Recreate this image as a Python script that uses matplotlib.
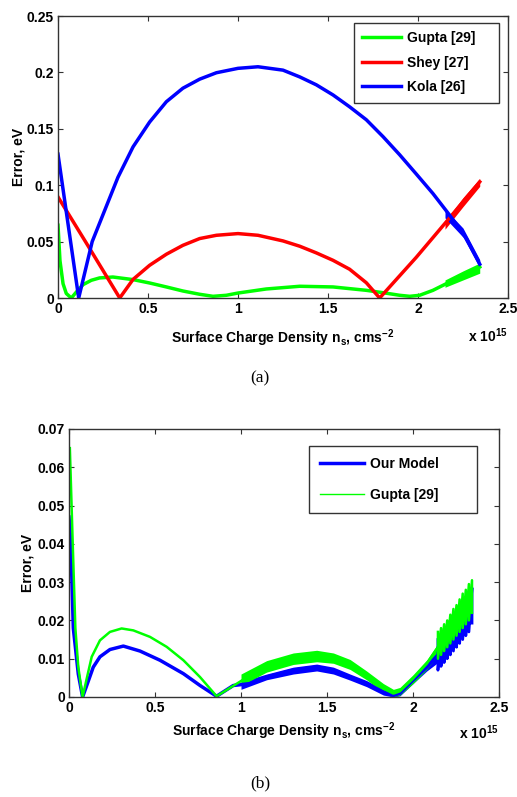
import numpy as np
import matplotlib.pyplot as plt

plt.rcParams['font.family'] = ['Liberation Sans', 'DejaVu Sans']
plt.rcParams['font.weight'] = 'bold'
plt.rcParams['mathtext.fontset'] = 'custom'
plt.rcParams['mathtext.rm'] = 'Liberation Sans:bold'
plt.rcParams['mathtext.bf'] = 'Liberation Sans:bold'

# ---- panel (a) data, x in units of 1e15 cm^-2 ----
gupta_a_x = [0, 0.011, 0.028, 0.046, 0.074, 0.102, 0.139, 0.185, 0.231, 0.305, 0.417, 0.509,
             0.602, 0.694, 0.787, 0.861, 0.935, 1.0, 1.157, 1.343, 1.528, 1.713, 1.806,
             1.898, 1.954, 2.009, 2.083, 2.176, 2.269, 2.343]
gupta_a_y = [0.0645, 0.033, 0.0127, 0.004, 0.0, 0.0053, 0.0118, 0.0157, 0.0178, 0.0186,
             0.0163, 0.0133, 0.0098, 0.0062, 0.0033, 0.0015, 0.0024, 0.0044, 0.008, 0.0104,
             0.0098, 0.0068, 0.0047, 0.0024, 0.0015, 0.0024, 0.0068, 0.0142, 0.0216, 0.0275]
shey_x = [0, 0.154, 0.343, 0.417, 0.509, 0.602, 0.694, 0.787, 0.88, 1.0, 1.111, 1.25,
          1.343, 1.435, 1.528, 1.62, 1.713, 1.787, 1.99, 2.157, 2.343]
shey_y = [0.0896, 0.0496, 0.0, 0.0165, 0.029, 0.0388, 0.0467, 0.0527, 0.0556, 0.0571,
          0.0556, 0.0506, 0.0459, 0.04, 0.0334, 0.0255, 0.0135, 0.0, 0.036, 0.0675, 0.103]
kola_x = [0, 0.115, 0.19, 0.333, 0.417, 0.509, 0.602, 0.694, 0.787, 0.88, 1.0, 1.111, 1.25,
          1.343, 1.435, 1.528, 1.62, 1.713, 1.806, 1.898, 1.99, 2.083, 2.176, 2.269, 2.343]
kola_y = [0.1275, 0.0, 0.05, 0.107, 0.134, 0.156, 0.174, 0.186, 0.194, 0.1997, 0.2036,
          0.205, 0.202, 0.196, 0.189, 0.18, 0.1695, 0.158, 0.143, 0.127, 0.110, 0.0926,
          0.0734, 0.0527, 0.030]
# ragged end of the (a) curves
a_end_x = [2.15, 2.25, 2.343]
gupta_a_lo = [0.0095, 0.016, 0.022]
gupta_a_hi = [0.016, 0.024, 0.031]
shey_lo = [0.061, 0.081, 0.099]
shey_hi = [0.068, 0.089, 0.106]
kola_lo = [0.071, 0.054, 0.027]
kola_hi = [0.079, 0.062, 0.034]

# ---- panel (b) data ----
ours_x = [0.0, 0.01, 0.025, 0.054, 0.079, 0.107, 0.141, 0.18, 0.238, 0.316, 0.413, 0.529,
          0.665, 0.762, 0.858, 0.955, 1.052, 1.149, 1.304, 1.44, 1.537, 1.634, 1.73, 1.828,
          1.886, 1.924, 2.0, 2.08, 2.145]
ours_y = [0.047, 0.041, 0.018, 0.006, 0.0, 0.0035, 0.0078, 0.0105, 0.0124, 0.0133, 0.012,
          0.0096, 0.0061, 0.003, 0.0002, 0.003, 0.0035, 0.0052, 0.007, 0.0078, 0.007, 0.0052,
          0.0035, 0.0013, 0.0004, 0.001, 0.0044, 0.0078, 0.011]
gupta_b_x = [0.005, 0.021, 0.037, 0.054, 0.079, 0.103, 0.132, 0.18, 0.238, 0.306, 0.374,
             0.471, 0.568, 0.665, 0.762, 0.858, 0.994, 1.149, 1.304, 1.44, 1.537, 1.634,
             1.73, 1.828, 1.886, 1.924, 2.0, 2.08, 2.145]
gupta_b_y = [0.065, 0.041, 0.018, 0.0078, 0.0, 0.0048, 0.0105, 0.0148, 0.017, 0.0179,
             0.0174, 0.0157, 0.0131, 0.0096, 0.0052, 0.0002, 0.004, 0.0087, 0.0105, 0.0113,
             0.0105, 0.0087, 0.0057, 0.0022, 0.0009, 0.0015, 0.0048, 0.0087, 0.013]
# spread of the noisy part (x >= 1)
band_x = [1.0, 1.149, 1.304, 1.44, 1.537, 1.634, 1.73, 1.828, 1.886, 1.924, 2.0, 2.08, 2.145]
gupta_b_hi = [0.006, 0.0095, 0.0115, 0.0122, 0.0115, 0.0098, 0.0068, 0.0035, 0.002, 0.0025,
              0.0058, 0.0097, 0.014]
gupta_b_lo = [0.003, 0.0065, 0.0085, 0.0092, 0.0088, 0.0072, 0.0045, 0.0012, 0.0, 0.0005,
              0.0035, 0.0072, 0.011]
ours_hi = [0.004, 0.006, 0.0078, 0.0086, 0.0078, 0.006, 0.0043, 0.002, 0.001, 0.0018, 0.005,
           0.0085, 0.011]
ours_lo = [0.002, 0.0045, 0.006, 0.0068, 0.006, 0.0044, 0.0027, 0.0005, 0.0, 0.0003, 0.0035,
           0.0068, 0.009]
# saw-tooth at the high density end
saw_x = [2.145, 2.163, 2.181, 2.199, 2.217, 2.235, 2.253, 2.271, 2.289, 2.307, 2.325, 2.343]
gupta_saw_top = [0.017, 0.018, 0.019, 0.020, 0.0215, 0.023, 0.024, 0.0255, 0.027, 0.028,
                 0.0295, 0.0305]
gupta_saw_bot = [0.010, 0.011, 0.012, 0.013, 0.014, 0.015, 0.016, 0.017, 0.018, 0.019, 0.020,
                 0.022]
ours_saw_top = [0.015, 0.016, 0.017, 0.018, 0.0195, 0.021, 0.022, 0.0235, 0.025, 0.026,
                0.0275, 0.0285]
ours_saw_bot = [0.007, 0.008, 0.009, 0.010, 0.011, 0.012, 0.013, 0.014, 0.015, 0.016, 0.017,
                0.0193]

x_ticks = [0, 0.5, 1, 1.5, 2, 2.5]
x_labels = ['0', '0.5', '1', '1.5', '2', '2.5']
ya_ticks = [0, 0.05, 0.1, 0.15, 0.2, 0.25]
ya_labels = ['0', '0.05', '0.1', '0.15', '0.2', '0.25']
yb_ticks = [0, 0.01, 0.02, 0.03, 0.04, 0.05, 0.06, 0.07]
yb_labels = ['0', '0.01', '0.02', '0.03', '0.04', '0.05', '0.06', '0.07']

GREEN, RED, BLUE = '#00ff00', '#ff0000', '#0000ff'
FS = 10


def sawtooth(xs, top, bot):
    # rise slowly to each top, then drop straight down to the bottom
    px, py = [], []
    for x, t, b in zip(xs, top, bot):
        px += [x, x]
        py += [t, b]
    return px, py


def style_axes(ax, yt, yl, ylim, xpad, ypad, mult_y):
    ax.set_xlim(0, 2.5)
    ax.set_ylim(*ylim)
    ax.set_xticks(x_ticks)
    ax.set_xticklabels(x_labels)
    ax.set_yticks(yt)
    ax.set_yticklabels(yl)
    ax.tick_params(direction='in', length=3.5, width=0.8, top=True, right=True,
                   labelsize=FS, pad=3, color='#333333')
    for s in ax.spines.values():
        s.set_color('#333333')
        s.set_linewidth(1.0)
    ax.set_ylabel('Error, eV', fontsize=FS, fontweight='bold', labelpad=ypad)
    ax.set_xlabel(r'Surface Charge Density n$_{\mathbf{s}}$, cms$^{\mathbf{-2}}$',
                  fontsize=FS, fontweight='bold', labelpad=xpad)
    ax.text(1.0, mult_y, r'x 10$^{\mathbf{15}}$', transform=ax.transAxes, ha='right',
            va='top', fontsize=FS, fontweight='bold')


def make_legend(ax, anchor, hl, spacing, pad):
    leg = ax.legend(loc='upper right', bbox_to_anchor=anchor, borderaxespad=0,
                    handlelength=hl, labelspacing=spacing, borderpad=pad, handletextpad=0.4,
                    fancybox=False, framealpha=1, prop={'weight': 'bold', 'size': FS})
    leg.get_frame().set_edgecolor('#333333')
    leg.get_frame().set_linewidth(1.0)
    return leg


fig = plt.figure(figsize=(5.17, 7.97), dpi=100)

# (a)
ax1 = fig.add_axes([58 / 517, 1 - 298 / 797, 450 / 517, 282 / 797])
ax1.plot(gupta_a_x, gupta_a_y, color=GREEN, lw=2.5, label='Gupta [29]    ')
ax1.fill_between(a_end_x, gupta_a_lo, gupta_a_hi, color=GREEN, lw=0)
ax1.plot(shey_x, shey_y, color=RED, lw=2.5, label='Shey [27]')
ax1.fill_between(a_end_x, shey_lo, shey_hi, color=RED, lw=0)
ax1.plot(kola_x, kola_y, color=BLUE, lw=2.5, label='Kola [26]')
ax1.fill_between(a_end_x, kola_lo, kola_hi, color=BLUE, lw=0)
style_axes(ax1, ya_ticks, ya_labels, (0, 0.25), 8, 1, -0.1)
make_legend(ax1, ((499 - 58) / 450, (298 - 23) / 282), 2.8, 0.75, 0.6)

# (b)
ax2 = fig.add_axes([69 / 517, 1 - 697 / 797, 430 / 517, 268 / 797])
ax2.plot(ours_x, ours_y, color=BLUE, lw=2.5, label='Our Model       ')
ax2.fill_between(band_x, ours_lo, ours_hi, color=BLUE, lw=0)
sx, sy = sawtooth(saw_x, ours_saw_top, ours_saw_bot)
ax2.plot(sx, sy, color=BLUE, lw=2.0)
ax2.plot(gupta_b_x, gupta_b_y, color=GREEN, lw=1.8, label='Gupta [29]')
ax2.fill_between(band_x, gupta_b_lo, gupta_b_hi, color=GREEN, lw=0)
sx, sy = sawtooth(saw_x, gupta_saw_top, gupta_saw_bot)
ax2.plot(sx, sy, color=GREEN, lw=1.8)
style_axes(ax2, yb_ticks, yb_labels, (0, 0.07), 4, 2, -0.1)
leg2 = make_legend(ax2, ((477 - 69) / 430, (697 - 446) / 268), 3.2, 1.2, 0.8)
leg2.get_lines()[1].set_linewidth(1.0)

fig.text(260 / 517, 1 - 378 / 797, '(a)', ha='center', va='center', fontsize=12.5,
         family='Liberation Serif', fontweight='normal')
fig.text(260 / 517, 1 - 783 / 797, '(b)', ha='center', va='center', fontsize=12.5,
         family='Liberation Serif', fontweight='normal')

fig.savefig('out.png', dpi=100)
